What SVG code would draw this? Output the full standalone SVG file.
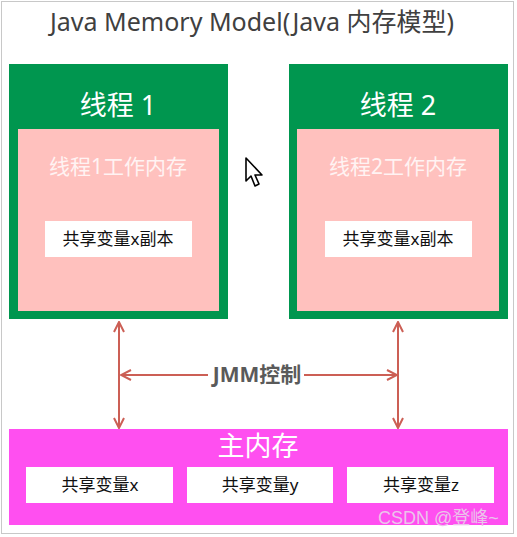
<svg xmlns="http://www.w3.org/2000/svg" width="517" height="537" viewBox="0 0 517 537">
<style>
.t{font-family:"Noto Sans","Noto Sans CJK SC",sans-serif;text-anchor:middle}
.thread{fill:#00964F}
.work{fill:#FFC1BE}
.wbox{fill:#FFFFFF}
.head{fill:#FFFFFF;font-size:27px}
.sub{fill:#FFF3F3;font-size:21px}
.var{fill:#111111;font-size:17px}
.conn{stroke:#CC5F55;stroke-width:2;fill:none}
</style>
<defs>
<marker id="ah" viewBox="0 0 12 12" refX="11" refY="6" markerWidth="12" markerHeight="12" markerUnits="userSpaceOnUse" orient="auto-start-reverse">
<path d="M1,1 L11,6 L1,11" fill="none" stroke="#CC5F55" stroke-width="2"/>
</marker>
</defs>
<rect x="0" y="0" width="517" height="537" fill="#FFFFFF"/>
<rect x="1.5" y="1.5" width="512" height="532" fill="none" stroke="#C8C8C8" stroke-width="1"/>
<text id="title" class="t" x="252" y="31" font-size="25" fill="#404040">Java Memory Model(Java 内存模型)</text>
<g id="thread1">
<rect class="thread" x="9" y="64" width="219" height="255"/>
<text class="t head" x="118" y="115">线程 1</text>
<rect class="work" x="18" y="129" width="201" height="182"/>
<text class="t sub" x="118" y="174">线程1工作内存</text>
<rect class="wbox" x="45" y="221" width="147" height="36"/>
<text class="t var" x="118" y="245">共享变量x副本</text>
</g>
<g id="thread2">
<rect class="thread" x="289" y="64" width="219" height="255"/>
<text class="t head" x="398" y="115">线程 2</text>
<rect class="work" x="297" y="129" width="202" height="182"/>
<text class="t sub" x="398" y="174">线程2工作内存</text>
<rect class="wbox" x="325" y="221" width="147" height="36"/>
<text class="t var" x="398" y="245">共享变量x副本</text>
</g>
<g id="mainmem">
<rect x="9" y="429" width="499" height="96" fill="#FF4FF0"/>
<text class="t" x="258" y="456" font-size="27" fill="#FFFFFF">主内存</text>
<rect class="wbox" x="26" y="467" width="147" height="36"/>
<text class="t var" x="100" y="491">共享变量x</text>
<rect class="wbox" x="187" y="467" width="146" height="36"/>
<text class="t var" x="260" y="491">共享变量y</text>
<rect class="wbox" x="347" y="467" width="147" height="36"/>
<text class="t var" x="421" y="491">共享变量z</text>
</g>
<g id="connectors">
<line class="conn" x1="119" y1="322" x2="119" y2="428" marker-start="url(#ah)" marker-end="url(#ah)"/>
<line class="conn" x1="398" y1="322" x2="398" y2="428" marker-start="url(#ah)" marker-end="url(#ah)"/>
<line class="conn" x1="208" y1="375" x2="121" y2="375" marker-end="url(#ah)"/>
<line class="conn" x1="304" y1="375" x2="397" y2="375" marker-end="url(#ah)"/>
<text class="t" x="257" y="382" font-size="21" font-weight="bold" fill="#5A5A5A">JMM控制</text>
</g>
<path id="cursor" d="M246,158 L246,181 L251,176 L255,186 L259,184 L255,175 L262,175 Z" fill="#FFFFFF" stroke="#000000" stroke-width="1.6" stroke-linejoin="round"/>
<text id="watermark" x="378" y="524" font-family="Liberation Sans,Noto Sans CJK SC,sans-serif" font-size="18" fill="#EBC4EB">CSDN @登峰~</text>
</svg>
